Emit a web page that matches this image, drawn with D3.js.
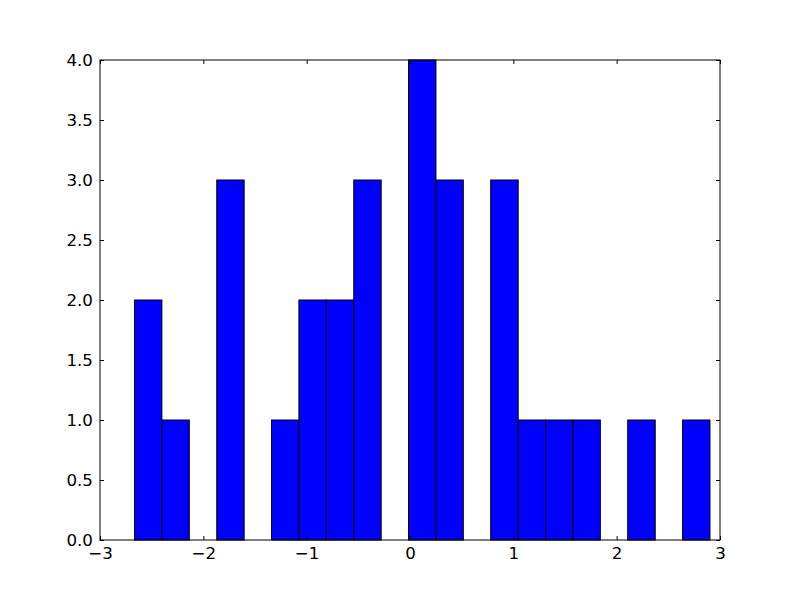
<!DOCTYPE html>
<html><head><meta charset="utf-8">
<script src="https://cdn.jsdelivr.net/npm/d3@7"></script>
<style>body{margin:0;background:#fff}svg{display:block}text{font-family:"DejaVu Sans",sans-serif}</style>
</head><body>
<script>
const binEdges = [-2.666,-2.401,-2.136,-1.870,-1.605,-1.340,-1.075,-0.810,-0.544,-0.279,-0.014,0.251,0.516,0.781,1.047,1.312,1.577,1.842,2.107,2.373,2.638,2.903];
const counts = [2,1,0,3,0,1,2,2,3,0,4,3,0,3,1,1,1,0,1,0,1];
const xTicks = [-3,-2,-1,0,1,2,3];
const yTicks = [0,0.5,1,1.5,2,2.5,3,3.5,4];

const W=800,H=600, L=100,R=720,T=60,B=540;
const svg=d3.select("body").append("svg").attr("width",W).attr("height",H);
const x=d3.scaleLinear().domain([-3,3]).range([L,R]);
const y=d3.scaleLinear().domain([0,4]).range([B,T]);

const bins = counts.map((c,i)=>({x0:binEdges[i],x1:binEdges[i+1],c}));
svg.append("g").selectAll("rect").data(bins.filter(d=>d.c>0)).join("rect")
  .attr("x",d=>x(d.x0)).attr("width",d=>x(d.x1)-x(d.x0))
  .attr("y",d=>y(d.c)).attr("height",d=>y(0)-y(d.c))
  .attr("fill","#0000ff").attr("stroke","#000").attr("stroke-width",1);

const fmtY = d=>d3.format(".1f")(d);
const fmtX = d=>d3.format("d")(d).replace("-","\u2212");
function styleAxis(g){g.select(".domain").remove();g.selectAll("line").attr("stroke","#000");g.selectAll("text").attr("font-size","16.7px").attr("fill","#000");}
svg.append("g").attr("transform",`translate(0,${B})`)
  .call(d3.axisBottom(x).tickValues(xTicks).tickFormat(fmtX).tickSizeInner(-4).tickSizeOuter(0).tickPadding(7)).call(styleAxis);
svg.append("g").attr("transform",`translate(0,${T})`)
  .call(d3.axisTop(x).tickValues(xTicks).tickFormat("").tickSizeInner(-4).tickSizeOuter(0)).call(styleAxis);
svg.append("g").attr("transform",`translate(${L},0)`)
  .call(d3.axisLeft(y).tickValues(yTicks).tickFormat(fmtY).tickSizeInner(-4).tickSizeOuter(0).tickPadding(7)).call(styleAxis);
svg.append("g").attr("transform",`translate(${R},0)`)
  .call(d3.axisRight(y).tickValues(yTicks).tickFormat("").tickSizeInner(-4).tickSizeOuter(0)).call(styleAxis);

svg.append("rect").attr("x",L).attr("y",T).attr("width",R-L).attr("height",B-T)
  .attr("fill","none").attr("stroke","#000").attr("stroke-width",1);
</script>
</body></html>
